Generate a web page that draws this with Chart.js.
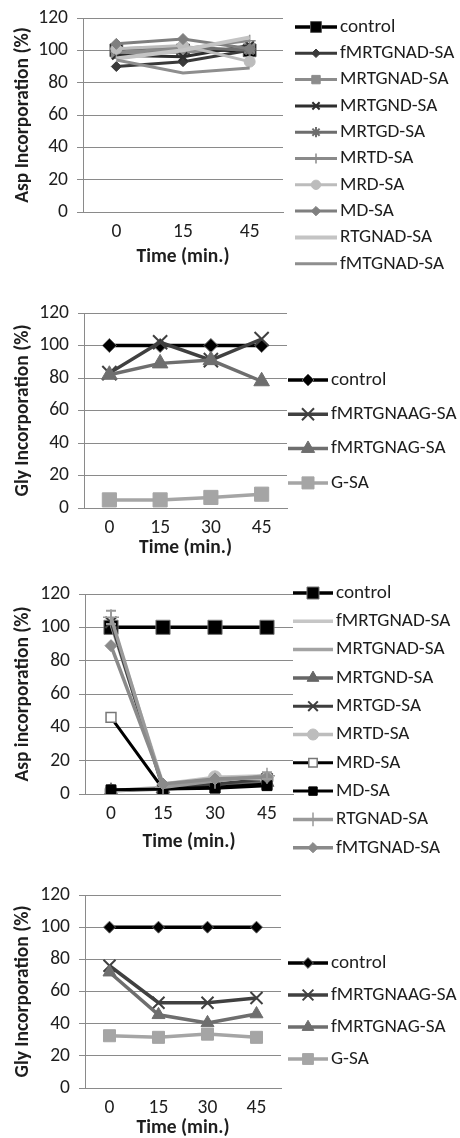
<!DOCTYPE html>
<html><head><meta charset="utf-8">
<script src="https://cdn.jsdelivr.net/npm/chart.js@4/dist/chart.umd.min.js"></script>
<style>
html,body{margin:0;padding:0;background:#fff;width:460px;height:1138px;overflow:hidden;}
canvas{position:absolute;left:0;}
</style></head><body>
<canvas id="c1" width="460" height="275" style="top:0px"></canvas>
<canvas id="c2" width="460" height="280" style="top:280px"></canvas>
<canvas id="c3" width="460" height="295" style="top:565px"></canvas>
<canvas id="c4" width="460" height="273" style="top:865px"></canvas>
<script>
// ---------- DATA ----------
const yMin = 0, yMax = 120, yStep = 20;
const time3 = ['0', '15', '45'];
const time4 = ['0', '15', '30', '45'];

// Panel 1: Asp Incorporation (%)
const p1Names = ['control','fMRTGNAD-SA','MRTGNAD-SA','MRTGND-SA','MRTGD-SA','MRTD-SA','MRD-SA','MD-SA','RTGNAD-SA','fMTGNAD-SA'];
const p1_control   = [100, 100, 100];
const p1_fMRTGNAD  = [90, 93, 100];
const p1_MRTGNAD   = [98, 99, 101];
const p1_MRTGND    = [97, 96, 103];
const p1_MRTGD     = [101, 102, 100];
const p1_MRTD      = [99, 101, 106];
const p1_MRD       = [101, 103, 93];
const p1_MD        = [104, 107, 101];
const p1_RTGNAD    = [95, 100, 108];
const p1_fMTGNAD   = [94, 86, 89];

// Panel 2: Gly Incorporation (%)
const p2Names = ['control','fMRTGNAAG-SA','fMRTGNAG-SA','G-SA'];
const p2_control   = [100, 100, 100, 100];
const p2_fMRTGNAAG = [83, 102, 91, 104];
const p2_fMRTGNAG  = [82, 89, 91, 78];
const p2_GSA       = [5, 5, 6.5, 8.5];

// Panel 3: Asp incorporation (%)
const p3Names = ['control','fMRTGNAD-SA','MRTGNAD-SA','MRTGND-SA','MRTGD-SA','MRTD-SA','MRD-SA','MD-SA','RTGNAD-SA','fMTGNAD-SA'];
const p3_control   = [100, 100, 100, 100];
const p3_fMRTGNAD  = [104, 6, 10, 11];
const p3_MRTGNAD   = [102, 5, 9, 10];
const p3_MRTGND    = [2, 3, 6, 7];
const p3_MRTGD     = [103, 3, 6, 9];
const p3_MRTD      = [2, 4, 10, 9];
const p3_MRD       = [46, 3, 4, 6];
const p3_MD        = [2.5, 3, 3.5, 5];
const p3_RTGNAD    = [106, 4, 8, 11];
const p3_RTGNAD_err = [4, 0, 0, 2];
const p3_fMTGNAD   = [89, 6, 9, 10];

// Panel 4: Gly Incorporation (%)
const p4Names = ['control','fMRTGNAAG-SA','fMRTGNAG-SA','G-SA'];
const p4_control   = [100, 100, 100, 100];
const p4_fMRTGNAAG = [76, 53, 53, 56];
const p4_fMRTGNAG  = [72, 45.5, 40.5, 46];
const p4_GSA       = [32.5, 31.5, 33.5, 31.5];

// ---------- STYLE ----------
const FONT = "Carlito, 'Liberation Sans', sans-serif";
const GRID = '#8a8a8a';
const TXT = '#1e1e1e';

function ds(label, data, color, width, style, radius, bg, pb, pbw) {
  return {
    label, data, borderColor: color, borderWidth: width, tension: 0,
    pointStyle: style || 'circle', pointRadius: style ? radius : 0,
    pointBackgroundColor: bg || color, pointBorderColor: pb || color,
    pointBorderWidth: pbw == null ? 1 : pbw, fill: false
  };
}

const lineLegend = {
  id: 'lineLegend',
  afterDraw(chart, args, o) {
    const ctx = chart.ctx;
    ctx.save();
    chart.data.datasets.forEach((d, i) => {
      const y = o.y0 + i * o.dy;
      ctx.lineCap = 'butt';
      ctx.strokeStyle = d.borderColor; ctx.lineWidth = d.borderWidth;
      ctx.beginPath(); ctx.moveTo(o.x0, y); ctx.lineTo(o.x1, y); ctx.stroke();
      if (d.pointRadius > 0 && Chart.helpers && Chart.helpers.drawPoint) {
        ctx.fillStyle = d.pointBackgroundColor; ctx.strokeStyle = d.pointBorderColor; ctx.lineWidth = d.pointBorderWidth;
        Chart.helpers.drawPoint(ctx, {pointStyle: d.pointStyle, rotation: 0, radius: d.pointRadius * o.scale, borderWidth: d.pointBorderWidth}, (o.x0 + o.x1) / 2, y);
      }
      ctx.fillStyle = TXT; ctx.font = o.size + 'px ' + FONT;
      ctx.textBaseline = 'middle'; ctx.textAlign = 'left';
      ctx.fillText(d.label, o.tx, y);
    });
    ctx.restore();
  }
};

const errorBars = {
  id: 'errorBars',
  afterDatasetsDraw(chart) {
    const ctx = chart.ctx, ys = chart.scales.y;
    chart.data.datasets.forEach((d, i) => {
      if (!d.errors) return;
      const meta = chart.getDatasetMeta(i);
      ctx.save();
      ctx.strokeStyle = d.borderColor; ctx.lineWidth = 2;
      meta.data.forEach((pt, j) => {
        const e = d.errors[j];
        if (!e) return;
        const v = d.data[j];
        const yTop = ys.getPixelForValue(v + e), yBot = ys.getPixelForValue(v - e);
        ctx.beginPath();
        ctx.moveTo(pt.x, yTop); ctx.lineTo(pt.x, yBot);
        ctx.moveTo(pt.x - 5, yTop); ctx.lineTo(pt.x + 5, yTop);
        ctx.moveTo(pt.x - 5, yBot); ctx.lineTo(pt.x + 5, yBot);
        ctx.stroke();
      });
      ctx.restore();
    });
  }
};

function makeChart(id, labels, datasets, yTitle, c) {
  const n = datasets.length;
  datasets.forEach((d, i) => { d.order = n - i; });
  return new Chart(document.getElementById(id), {
    type: 'line',
    data: {labels, datasets},
    plugins: [lineLegend, errorBars],
    options: {
      responsive: false, animation: false, devicePixelRatio: 1,
      layout: {padding: {top: c.top, right: c.right, left: 0, bottom: 0}},
      plugins: {legend: {display: false}, tooltip: {enabled: false}, lineLegend: c.legend},
      scales: {
        x: {
          offset: true,
          grid: {display: false, drawTicks: false},
          border: {display: true, color: GRID, width: 1},
          ticks: {font: {family: FONT, size: 19.5}, color: TXT, padding: 8, maxRotation: 0},
          title: {display: true, text: 'Time (min.)', color: TXT,
                  font: {family: FONT, size: 19.5, weight: 'bold', lineHeight: 1}, padding: {top: 0, bottom: c.xpad}},
          afterFit(s) { s.height = c.xh; s.paddingLeft = 0; s.paddingRight = 0; }
        },
        y: {
          min: yMin, max: yMax,
          ticks: {stepSize: yStep, font: {family: FONT, size: 19.5}, color: TXT, padding: 9},
          grid: {color: GRID, lineWidth: 1, drawTicks: true, tickLength: 6},
          border: {display: true, color: GRID, width: 1},
          title: {display: true, text: yTitle, color: TXT,
                  font: {family: FONT, size: 19.5, weight: 'bold', lineHeight: 1}, padding: {top: 13, bottom: 0}},
          afterFit(s) { s.width = c.left; s.paddingTop = 0; s.paddingBottom = 0; }
        }
      }
    }
  });
}

// Panel 1
makeChart('c1', time3, [
  ds(p1Names[0], p1_control,  '#000000', 3.5, 'rect', 9, '#000000', '#555555', 1),
  ds(p1Names[1], p1_fMRTGNAD, '#3a3a3a', 3, 'rectRot', 5),
  ds(p1Names[2], p1_MRTGNAD,  '#8c8c8c', 3, 'rect', 7),
  ds(p1Names[3], p1_MRTGND,   '#2e2e2e', 3, 'crossRot', 6, null, null, 2),
  ds(p1Names[4], p1_MRTGD,    '#6d6d6d', 3, 'star', 6, null, null, 2),
  ds(p1Names[5], p1_MRTD,     '#8a8a8a', 3, 'cross', 6, null, null, 1.5),
  ds(p1Names[6], p1_MRD,      '#bcbcbc', 3, 'circle', 5.5),
  ds(p1Names[7], p1_MD,       '#7f7f7f', 3, 'rectRot', 5.5),
  ds(p1Names[8], p1_RTGNAD,   '#c4c4c4', 4, null, 0),
  ds(p1Names[9], p1_fMTGNAD,  '#8e8e8e', 3, null, 0)
], 'Asp Incorporation (%)', {top: 18, right: 177, left: 83, xh: 63, xpad: 8,
  legend: {x0: 295, x1: 337, tx: 340, y0: 27, dy: 26.3, size: 19.2, scale: 0.85}});

// Panel 2
makeChart('c2', time4, [
  ds(p2Names[0], p2_control,   '#000000', 3.5, 'rectRot', 7, '#000000', '#666666', 1),
  ds(p2Names[1], p2_fMRTGNAAG, '#404040', 3.5, 'crossRot', 10, null, null, 2),
  ds(p2Names[2], p2_fMRTGNAG,  '#6e6e6e', 3.5, 'triangle', 9),
  ds(p2Names[3], p2_GSA,       '#a5a5a5', 3.5, 'rect', 10)
], 'Gly Incorporation (%)', {top: 33, right: 173, left: 84, xh: 52, xpad: 2,
  legend: {x0: 288, x1: 328, tx: 331, y0: 100, dy: 34.3, size: 19.2, scale: 0.85}});

// Panel 3
const p3Sets = [
  ds(p3Names[0], p3_control,  '#000000', 3.5, 'rect', 10, '#000000', '#777777', 1),
  ds(p3Names[1], p3_fMRTGNAD, '#c6c6c6', 3.5, null, 0),
  ds(p3Names[2], p3_MRTGNAD,  '#a3a3a3', 3.5, null, 0),
  ds(p3Names[3], p3_MRTGND,   '#666666', 3.5, 'triangle', 8),
  ds(p3Names[4], p3_MRTGD,    '#3e3e3e', 3, 'crossRot', 8, null, null, 2),
  ds(p3Names[5], p3_MRTD,     '#bdbdbd', 3.5, 'circle', 6.5),
  ds(p3Names[6], p3_MRD,      '#000000', 3, 'rect', 7, '#ffffff', '#777777', 1.5),
  ds(p3Names[7], p3_MD,       '#000000', 3, 'rect', 7, '#000000', '#000000', 1),
  ds(p3Names[8], p3_RTGNAD,   '#9a9a9a', 3.5, 'cross', 8, null, null, 1.5),
  ds(p3Names[9], p3_fMTGNAD,  '#8a8a8a', 3.5, 'rectRot', 6)
];
p3Sets[8].errors = p3_RTGNAD_err;
makeChart('c3', time4, p3Sets, 'Asp incorporation (%)', {top: 29, right: 167, left: 85, xh: 66, xpad: 8,
  legend: {x0: 293, x1: 333, tx: 336, y0: 28, dy: 28.3, size: 19.2, scale: 0.85}});

// Panel 4
makeChart('c4', time4, [
  ds(p4Names[0], p4_control,   '#000000', 3.5, 'rectRot', 6, '#000000', '#666666', 1),
  ds(p4Names[1], p4_fMRTGNAAG, '#404040', 3.5, 'crossRot', 8.5, null, null, 2),
  ds(p4Names[2], p4_fMRTGNAG,  '#6e6e6e', 3.5, 'triangle', 7.5),
  ds(p4Names[3], p4_GSA,       '#a5a5a5', 3.5, 'rect', 8.5)
], 'Gly Incorporation (%)', {top: 30, right: 179, left: 85, xh: 50, xpad: 0,
  legend: {x0: 288, x1: 328, tx: 331, y0: 98, dy: 32, size: 19.2, scale: 0.9}});
</script>
</body></html>
